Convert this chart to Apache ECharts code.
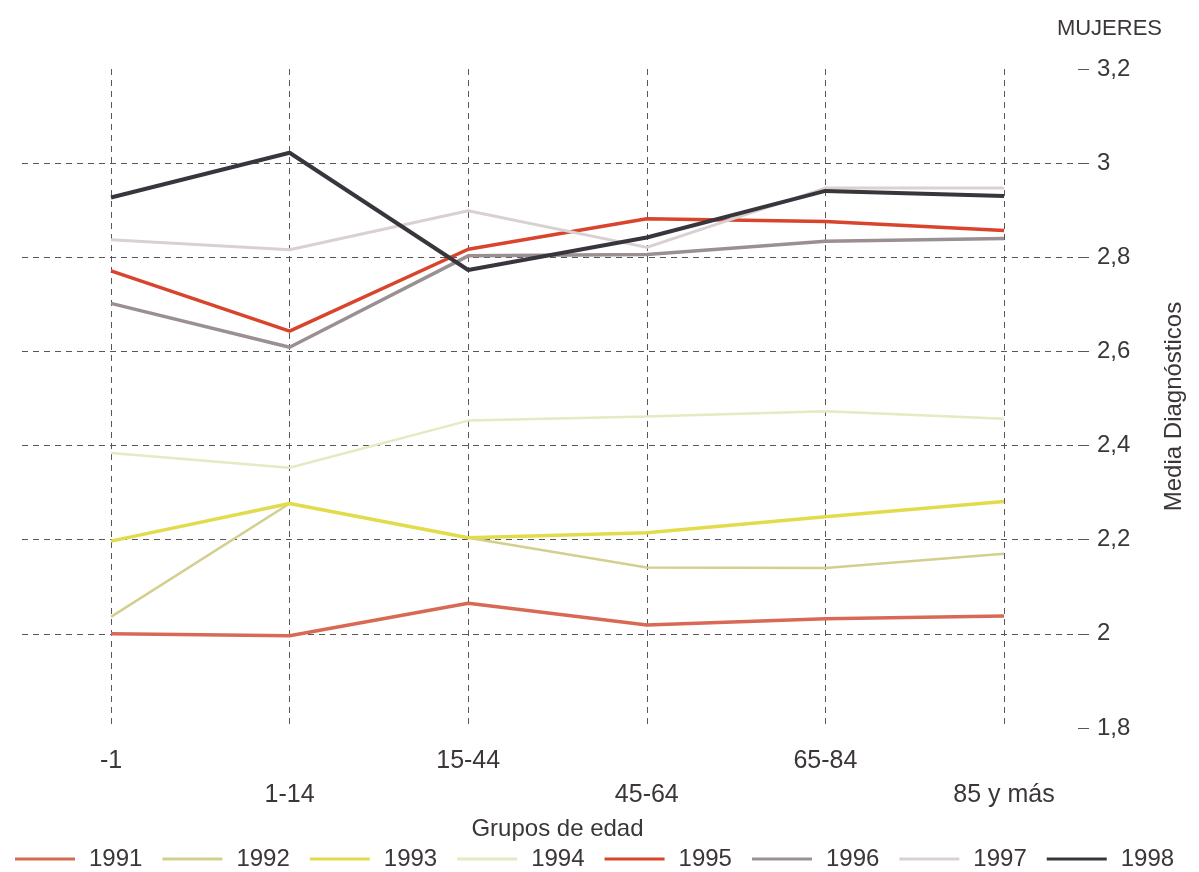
<!DOCTYPE html>
<html>
<head>
<meta charset="utf-8">
<script src="https://cdn.jsdelivr.net/npm/echarts@6/dist/echarts.min.js"></script>
<style>
html,body{margin:0;padding:0;background:#fff;}
#c{width:1199px;height:872px;}
</style>
</head>
<body>
<div id="c"></div>
<script>
const categories = ['-1', '1-14', '15-44', '45-64', '65-84', '85 y más'];
const years = ['1991', '1992', '1993', '1994', '1995', '1996', '1997', '1998'];
const v1991 = [2.00, 1.996, 2.065, 2.019, 2.032, 2.038];
const v1992 = [2.036, 2.277, 2.204, 2.141, 2.140, 2.170];
const v1993 = [2.197, 2.277, 2.204, 2.215, 2.249, 2.281];
const v1994 = [2.384, 2.353, 2.453, 2.462, 2.473, 2.457];
const v1995 = [2.771, 2.643, 2.817, 2.882, 2.876, 2.857];
const v1996 = [2.702, 2.609, 2.803, 2.806, 2.834, 2.840];
const v1997 = [2.837, 2.816, 2.899, 2.821, 2.947, 2.947];
const v1998 = [2.927, 3.022, 2.773, 2.842, 2.941, 2.930];
const yTicks = [1.8, 2.0, 2.2, 2.4, 2.6, 2.8, 3.0, 3.2];

const seriesValues = [v1991, v1992, v1993, v1994, v1995, v1996, v1997, v1998];
const colors = ['#d86a55', '#d3cf8e', '#e2dc4c', '#e6e9c2', '#d8442c', '#9a9092', '#d9d0d1', '#38363c'];
const widths = [3.5, 2.5, 3.5, 2.5, 3.5, 3.5, 3, 4];
const textColor = '#3b3639';
const gridColor = '#5a5558';

const chart = echarts.init(document.getElementById('c'));
const series = years.map((y, i) => ({
  name: y,
  type: 'line',
  xAxisIndex: 0,
  yAxisIndex: 0,
  data: seriesValues[i],
  symbol: 'none',
  lineStyle: { color: colors[i], width: widths[i] },
  itemStyle: { color: colors[i] },
  z: 10 + i,
  silent: true
}));

chart.setOption({
  animation: false,
  backgroundColor: '#ffffff',
  textStyle: { fontFamily: 'Liberation Sans, Arial, sans-serif', color: textColor },
  title: {
    text: 'MUJERES',
    right: 32,
    top: 13,
    textStyle: { fontSize: 22, fontWeight: 'normal', color: textColor, fontFamily: 'Liberation Sans, Arial, sans-serif' }
  },
  legend: {
    data: years,
    bottom: -4,
    left: 10,
    width: 1189,
    icon: 'rect',
    itemWidth: 60,
    itemHeight: 3,
    itemGap: 20,
    textStyle: { fontSize: 24, color: textColor, padding: [0, 0, 0, 9] }
  },
  grid: [
    { left: 111, right: 195, top: 69, bottom: 144 },
    { left: 22, right: 121, top: 69, bottom: 144 }
  ],
  xAxis: [
    {
      type: 'category',
      gridIndex: 0,
      data: categories,
      boundaryGap: false,
      axisLine: { show: false },
      axisTick: { show: false },
      splitLine: { show: true, lineStyle: { color: gridColor, type: [6, 5], width: 1 } },
      axisLabel: {
        fontSize: 25,
        color: textColor,
        margin: 16,
        lineHeight: 34,
        interval: 0,
        formatter: (v, i) => (i % 2 === 1 ? '\n' + v : v)
      },
      name: 'Grupos de edad',
      nameLocation: 'middle',
      nameGap: 77,
      nameTextStyle: { fontSize: 24, color: textColor }
    },
    {
      type: 'value',
      gridIndex: 1,
      show: false,
      splitLine: { show: false },
      axisTick: { show: false },
      axisLine: { show: false }
    }
  ],
  yAxis: [
    {
      type: 'value',
      gridIndex: 0,
      min: 1.8,
      max: 3.2,
      interval: 0.2,
      show: false
    },
    {
      type: 'value',
      gridIndex: 1,
      position: 'right',
      min: 1.8,
      max: 3.2,
      interval: 0.2,
      axisLine: { show: false, onZero: false },
      axisTick: { show: true, inside: false, length: 11, lineStyle: { color: gridColor, width: 1 } },
      splitLine: { show: true, showMinLine: false, showMaxLine: false, lineStyle: { color: gridColor, type: [6, 5], width: 1 } },
      axisLabel: {
        fontSize: 24,
        color: textColor,
        margin: 19,
        formatter: v => {
          const r = Math.round(v * 10) / 10;
          return (Number.isInteger(r) ? String(r) : r.toFixed(1)).replace('.', ',');
        }
      },
      name: 'Media Diagnósticos',
      nameLocation: 'middle',
      nameRotate: 90,
      nameGap: 84,
      nameTextStyle: { fontSize: 24, color: textColor, padding: [0, 16, 0, 0] }
    }
  ],
  series: series
});
</script>
</body>
</html>
